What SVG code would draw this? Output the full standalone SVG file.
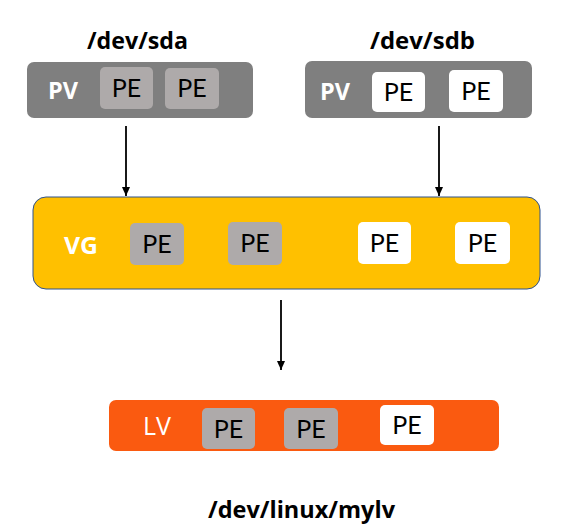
<svg xmlns="http://www.w3.org/2000/svg" width="566" height="524" viewBox="0 0 566 524">
<defs>
<marker id="arr" markerWidth="9" markerHeight="8" refX="9" refY="4" orient="auto" markerUnits="userSpaceOnUse" viewBox="0 0 9 8">
<path d="M0,0 L9,4 L0,8 Z" fill="#000"/>
</marker>
</defs>
<style>
text{font-family:"Open Sans","Noto Sans","DejaVu Sans",sans-serif}
.hdr{font-size:24px;font-weight:bold;fill:#000}
.pe{font-family:Lato,"Open Sans",sans-serif;font-size:25px;fill:#000;text-anchor:middle}
.lbl{font-size:23px;fill:#fff;font-weight:bold}
.pv{fill:#7f7f7f}
.g{fill:#aeaaaa}
.w{fill:#fff}
.edge{stroke:#000;stroke-width:1.8;fill:none}
</style>
<rect width="566" height="524" fill="#fff"/>
<g id="connectors">
<line class="edge" x1="126" y1="126" x2="126" y2="196" marker-end="url(#arr)"/>
<line class="edge" x1="439" y1="126" x2="439" y2="196" marker-end="url(#arr)"/>
<line class="edge" x1="281" y1="300" x2="281" y2="370" marker-end="url(#arr)"/>
</g>
<g id="sda">
<text class="hdr" x="87" y="49" textLength="101" lengthAdjust="spacingAndGlyphs">/dev/sda</text>
<rect class="pv" x="27" y="62" width="226" height="56" rx="7"/>
<text class="lbl" x="48" y="99" textLength="30" lengthAdjust="spacingAndGlyphs">PV</text>
<rect class="g" x="100" y="67" width="53" height="42" rx="5"/>
<text class="pe" x="126.5" y="97">PE</text>
<rect class="g" x="165" y="68" width="54" height="41" rx="5"/>
<text class="pe" x="192" y="97">PE</text>
</g>
<g id="sdb">
<text class="hdr" x="370" y="49" textLength="105" lengthAdjust="spacingAndGlyphs">/dev/sdb</text>
<rect class="pv" x="305" y="61" width="227" height="57" rx="7"/>
<text class="lbl" x="320" y="100" textLength="30" lengthAdjust="spacingAndGlyphs">PV</text>
<rect class="w" x="372" y="72" width="53" height="40" rx="5"/>
<text class="pe" x="398.5" y="101">PE</text>
<rect class="w" x="449" y="70" width="54" height="42" rx="5"/>
<text class="pe" x="476" y="100">PE</text>
</g>
<g id="vg">
<rect x="33" y="197" width="507" height="92" rx="13" fill="#ffc000" stroke="#2f528f" stroke-width="1"/>
<text class="lbl" x="64" y="254" textLength="34" lengthAdjust="spacingAndGlyphs">VG</text>
<rect class="g" x="130" y="223" width="54" height="42" rx="5"/>
<text class="pe" x="157" y="253">PE</text>
<rect class="g" x="228" y="222" width="54" height="43" rx="5"/>
<text class="pe" x="255" y="252">PE</text>
<rect class="w" x="358" y="222" width="53" height="42" rx="5"/>
<text class="pe" x="384.5" y="252">PE</text>
<rect class="w" x="455" y="222" width="55" height="42" rx="5"/>
<text class="pe" x="482.5" y="252">PE</text>
</g>
<g id="lv">
<rect x="109" y="400" width="390" height="51" rx="7" fill="#fa5a10"/>
<text x="143" y="435" font-family="Lato,'Open Sans',sans-serif" font-size="25" fill="#fff">LV</text>
<rect class="g" x="202" y="408" width="53" height="41" rx="5"/>
<text class="pe" x="228.5" y="438">PE</text>
<rect class="g" x="284" y="408" width="54" height="41" rx="5"/>
<text class="pe" x="311" y="438">PE</text>
<rect class="w" x="380" y="405" width="54" height="40" rx="5"/>
<text class="pe" x="407" y="434">PE</text>
</g>
<g id="mylv">
<text class="hdr" x="208" y="518" textLength="187" lengthAdjust="spacingAndGlyphs">/dev/linux/mylv</text>
</g>
</svg>
